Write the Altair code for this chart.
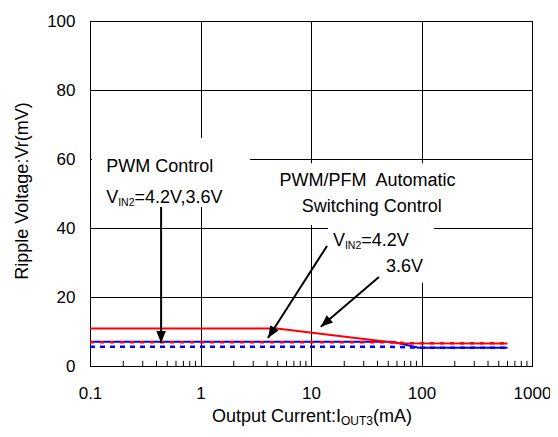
import altair as alt
import pandas as pd

# ---------------- data (Output current mA, ripple mV)
red_auto_x = [0.1, 4.9, 63, 600]      # VIN2=4.2V, PWM/PFM automatic
red_auto_y = [10.9, 10.9, 6.6, 6.5]
blue_auto_x = [0.1, 55, 94, 600]      # VIN2=3.6V, PWM/PFM automatic
blue_auto_y = [7.0, 7.0, 5.3, 5.3]
red_pwm_x = [0.1, 45, 80, 600]        # VIN2=4.2V, PWM control
red_pwm_y = [6.9, 6.9, 6.6, 6.6]
blue_pwm_x = [0.1, 48, 94, 600]       # VIN2=3.6V, PWM control
blue_pwm_y = [5.6, 5.6, 5.3, 5.3]

x_ticks = [0.1, 1, 10, 100, 1000]
y_ticks = [0, 20, 40, 60, 80, 100]
minor_ticks = [0.2, 0.3, 0.4, 0.5, 0.6, 0.7, 0.8, 0.9,
               2, 3, 4, 5, 6, 7, 8, 9,
               20, 30, 40, 50, 60, 70, 80, 90,
               200, 300, 400, 500, 600, 700, 800, 900]

# annotation anchors, in data units
arrow_x = [0.44, 13.96, 41.2]
arrow_y = [46.1, 34.8, 25.8]
arrow_x2 = [0.44, 4.08, 12.24]
arrow_y2 = [6.7, 8.1, 11.4]
arrow_angle = [0, 32.7, 49.6]

box_x = [0.104, 3.6, 14.25]
box_x2 = [2.8, 338, 129.8]
box_y = [46.1, 40.9, 24.1]
box_y2 = [66.1, 58.8, 41.5]

# ---------------- styling helpers
FONT = "Liberation Sans"
ANN = 18
SUB = 10.5
AX = 17

ARIAL = {' ': 278, '(': 333, ')': 333, '.': 278, ',': 278, ':': 278, '/': 278,
         '=': 584, 'A': 667, 'C': 722, 'F': 611, 'I': 278, 'M': 833, 'N': 722,
         'O': 778, 'P': 667, 'R': 722, 'S': 667, 'T': 611, 'U': 722, 'V': 667,
         'W': 944, 'a': 556, 'c': 500, 'e': 556, 'g': 556, 'h': 556, 'i': 222,
         'l': 222, 'm': 833, 'n': 556, 'o': 556, 'p': 556, 'r': 333, 't': 278,
         'u': 556, 'w': 722}


def tw(s, size):
    return sum(ARIAL.get(c, 556) for c in s) * size / 1000.0


xs = alt.Scale(type="log", domain=[0.1, 1000], nice=False)
ys = alt.Scale(domain=[0, 100], nice=False)

xaxis = alt.Axis(values=x_ticks, format="~g", grid=True, gridColor="black",
                 gridOpacity=1, gridWidth=1, ticks=False, tickSize=0,
                 domainColor="black", labelFontSize=AX, labelFont=FONT,
                 labelColor="black", labelPadding=19, labelFlush=False,
                 labelOverlap=False, title=None)
yaxis = alt.Axis(values=y_ticks, format="d", grid=True, gridColor="black",
                 gridOpacity=1, gridWidth=1, ticks=False, tickSize=0,
                 domainColor="black", labelFontSize=AX, labelFont=FONT,
                 labelColor="black", labelPadding=15, title=None)


def X(f):
    return alt.X(f, type="quantitative", scale=xs, axis=xaxis)


def Y(f):
    return alt.Y(f, type="quantitative", scale=ys, axis=yaxis)


def series(xv, yv, color, width, dash=None):
    df = pd.DataFrame({"x": xv, "y": yv})
    kw = dict(color=color, strokeWidth=width, strokeCap="butt")
    if dash:
        kw["strokeDash"] = dash
    return alt.Chart(df).mark_line(**kw).encode(x=X("x"), y=Y("y"))


# white boxes behind annotation texts (cover the grid)
boxes = alt.Chart(pd.DataFrame({"x": box_x, "x2": box_x2, "y": box_y, "y2": box_y2})).mark_rect(
    color="white", opacity=1).encode(x=X("x"), x2="x2", y=Y("y"), y2="y2")

# minor ticks on bottom axis (inward)
minor = alt.Chart(pd.DataFrame({"x": minor_ticks, "y": [0] * len(minor_ticks),
                                "y2": [1.5] * len(minor_ticks)})).mark_rule(
    color="black", strokeWidth=1).encode(x=X("x"), y=Y("y"), y2="y2")

l_blue_auto = series(blue_auto_x, blue_auto_y, "#0000ff", 2)
l_blue_pwm = series(blue_pwm_x, blue_pwm_y, "#0000ff", 2.5, [5, 5])
l_red_auto = series(red_auto_x, red_auto_y, "#ff0000", 2)
l_red_pwm = series(red_pwm_x, red_pwm_y, "#ff0000", 2.5, [4, 6])

arr_df = pd.DataFrame({"x": arrow_x, "y": arrow_y, "x2": arrow_x2, "y2": arrow_y2,
                       "ang": arrow_angle})
arrow_lines = alt.Chart(arr_df).mark_rule(color="black", strokeWidth=2).encode(
    x=X("x"), y=Y("y"), x2="x2", y2="y2")
arrow_heads = alt.Chart(arr_df).mark_point(
    shape="M0,0L-0.8,-2L0.8,-2Z", filled=True, color="black", opacity=1, size=144,
    strokeWidth=0).encode(x=X("x2"), y=Y("y2"), angle=alt.Angle("ang:Q", scale=None))


def txt(texts, xv, yv, size=ANN, align="left", dx=0, dy=0):
    df = pd.DataFrame({"t": texts, "x": xv, "y": yv})
    return alt.Chart(df).mark_text(align=align, baseline="alphabetic", font=FONT,
                                   fontSize=size, color="black", dx=dx, dy=dy).encode(
        x=X("x"), y=Y("y"), text="t:N")


t_pwm = txt(["PWM Control"], [0.14], [56.3])
t_auto = txt(["PWM/PFM\u00a0 Automatic", "Switching Control"], [32.5, 35.4], [52.2, 44.7],
             align="center")
t_v = txt(["V", "V"], [0.14, 15.8], [47.2, 34.8])
t_sub = txt(["IN2", "IN2"], [0.14, 15.8], [47.2, 34.8], size=SUB, dx=tw("V", ANN), dy=3)
t_rest = txt(["=4.2V,3.6V", "=4.2V"], [0.14, 15.8], [47.2, 34.8],
             dx=tw("V", ANN) + tw("IN2", SUB))
t_36 = txt(["3.6V"], [47.7], [27.3])

# axis titles (pixel layout relative to plot origin)
W, H = 442, 345
TT = 18
TS = 12
p1, p2, p3 = "Output Current:I", "OUT3", "(mA)"
total = tw(p1, TT) + tw(p2, TS) + tw(p3, TT)
x0 = 222 - total / 2
title_y = 401


def ptxt(text, x, y, size, angle=None, align="left", baseline="alphabetic"):
    kw = dict(align=align, baseline=baseline, font=FONT, fontSize=size, color="black")
    if angle is not None:
        kw["angle"] = angle
    return alt.Chart(pd.DataFrame({"t": [text]})).mark_text(**kw).encode(
        x=alt.value(x), y=alt.value(y), text="t:N")


xt1 = ptxt(p1, x0, title_y, TT)
xt2 = ptxt(p2, x0 + tw(p1, TT), title_y + 3, TS)
xt3 = ptxt(p3, x0 + tw(p1, TT) + tw(p2, TS), title_y, TT)
yt = ptxt("Ripple Voltage:Vr(mV)", -67, 170, TT, angle=270, align="center",
          baseline="middle")

chart = alt.layer(
    boxes, minor, l_blue_auto, l_blue_pwm, l_red_auto, l_red_pwm,
    arrow_lines, arrow_heads, t_pwm, t_auto, t_v, t_sub, t_rest, t_36,
    xt1, xt2, xt3, yt
).properties(
    width=W, height=H,
    autosize=alt.AutoSizeParams(type="none"),
    padding={"left": 82, "top": 13, "right": 18, "bottom": 63},
    background="white",
).configure_view(stroke="black", strokeWidth=1)

chart.save("out.html", embed_options={"renderer": "svg", "actions": False})
